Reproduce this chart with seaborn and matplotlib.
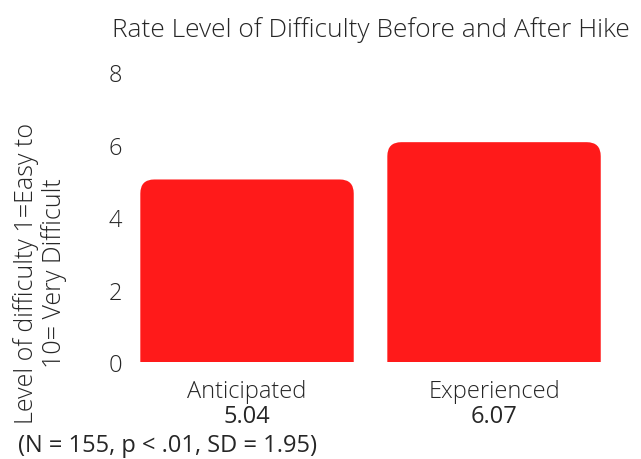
import matplotlib
matplotlib.use("Agg")
import matplotlib.pyplot as plt
from matplotlib.patches import FancyBboxPatch
import seaborn as sns

categories = ["Anticipated", "Experienced"]
values = [5.04, 6.07]
y_ticks = [0, 2, 4, 6, 8]
title = "Rate Level of Difficulty Before and After Hike"
y_label = "Level of difficulty 1=Easy to\n10= Very Difficult"
footnote = "(N = 155, p < .01, SD = 1.95)"

BAR_COLOR = "#FF1A1A"
TEXT_COLOR = "#262626"
FONT = ["Open Sans", "DejaVu Sans"]

sns.set_theme(style="white")
plt.rcParams["font.family"] = FONT

fig = plt.figure(figsize=(6.41, 4.60), dpi=100)
ax = fig.add_axes([0.1927, 0.2109, 0.7707, 0.6298])

sns.barplot(x=categories, y=values, color=BAR_COLOR, saturation=1,
            width=0.864, ax=ax, errorbar=None)

ax.set_xlim(-0.5, 1.5)
ax.set_ylim(0, 8)
ax.set_yticks(y_ticks)
ax.set_yticklabels([str(t) for t in y_ticks], fontsize=17,
                   fontweight="light", color=TEXT_COLOR)
ax.tick_params(axis="both", length=0, pad=1)
ax.set_xticks([])
ax.set_xlabel("")
ax.set_ylabel("")
for s in ax.spines.values():
    s.set_visible(False)

# Replace plain rectangles with bars that have rounded top corners
fig.canvas.draw()
p0 = ax.transData.transform((0, 0))
p1 = ax.transData.transform((1, 1))
px_x = p1[0] - p0[0]
px_y = p1[1] - p0[1]
radius_px = 14
rx = radius_px / px_x
aspect = px_x / px_y
ry = rx * aspect
for bar in list(ax.patches):
    x, w, h = bar.get_x(), bar.get_width(), bar.get_height()
    bar.remove()
    rounded = FancyBboxPatch((x, -ry), w, h + ry,
                             boxstyle=f"round,pad=0,rounding_size={rx}",
                             mutation_aspect=aspect,
                             facecolor=BAR_COLOR, edgecolor="none",
                             clip_on=True)
    ax.add_patch(rounded)

# Category names with their mean values underneath
xaxis_tf = ax.get_xaxis_transform()
for i, (cat, val) in enumerate(zip(categories, values)):
    ax.annotate(cat, xy=(i, 0), xycoords=xaxis_tf, xytext=(0, -35),
                textcoords="offset pixels", ha="center", va="baseline",
                fontsize=17, fontweight="light", color=TEXT_COLOR,
                annotation_clip=False)
    ax.annotate(f"{val:.2f}", xy=(i, 0), xycoords=xaxis_tf, xytext=(0, -60),
                textcoords="offset pixels", ha="center", va="baseline",
                fontsize=17, fontweight="normal", color=TEXT_COLOR,
                annotation_clip=False)

fig.text(371 / 641, 1 - 37 / 460, title, ha="center", va="baseline",
         fontsize=19, fontweight="light", color=TEXT_COLOR)
fig.text(40 / 641, 1 - 273 / 460, y_label, rotation=90, ha="center",
         va="center", multialignment="center", linespacing=1.1,
         fontsize=18, fontweight="light", color=TEXT_COLOR)
fig.text(167 / 641, 1 - 452 / 460, footnote, ha="center", va="baseline",
         fontsize=17, fontweight="normal", color=TEXT_COLOR)

fig.savefig("out.png", dpi=100)
